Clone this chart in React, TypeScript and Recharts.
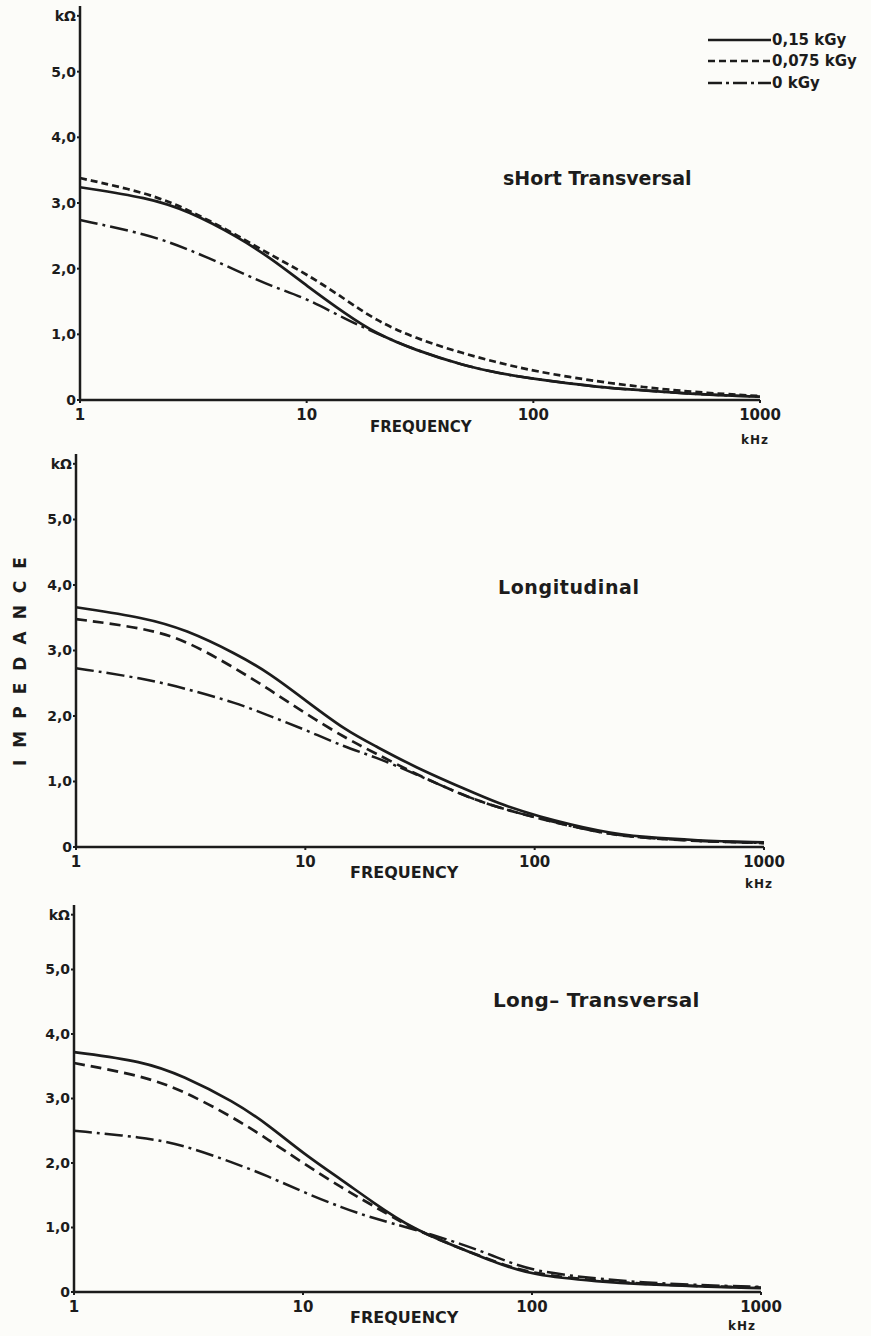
import React from 'react';
import { LineChart, Line, XAxis, YAxis, Legend } from 'recharts';

// frequency grid (kHz)
const FREQ = [1, 2, 3, 5, 7, 10, 15, 20, 30, 50, 70, 100, 200, 300, 500, 1000];

// sHort Transversal
const SHORT_015 = [3.24, 3.08, 2.88, 2.48, 2.15, 1.74, 1.3, 1.02, 0.76, 0.52, 0.41, 0.32, 0.19, 0.15, 0.09, 0.05];
const SHORT_0075 = [3.38, 3.15, 2.9, 2.5, 2.2, 1.92, 1.52, 1.22, 0.94, 0.7, 0.57, 0.44, 0.27, 0.2, 0.12, 0.06];
const SHORT_0 = [2.74, 2.52, 2.3, 1.96, 1.73, 1.55, 1.22, 1.03, 0.76, 0.52, 0.41, 0.32, 0.19, 0.15, 0.09, 0.05];

// Longitudinal
const LONG_015 = [3.66, 3.5, 3.32, 2.95, 2.65, 2.24, 1.78, 1.55, 1.22, 0.88, 0.66, 0.48, 0.22, 0.15, 0.1, 0.07];
const LONG_0075 = [3.48, 3.34, 3.16, 2.72, 2.4, 2.04, 1.66, 1.44, 1.12, 0.77, 0.6, 0.45, 0.2, 0.14, 0.09, 0.06];
const LONG_0 = [2.73, 2.57, 2.42, 2.2, 2.0, 1.79, 1.52, 1.38, 1.12, 0.77, 0.6, 0.45, 0.2, 0.14, 0.09, 0.06];

// Long-Transversal
const LT_015 = [3.72, 3.58, 3.35, 2.95, 2.6, 2.15, 1.72, 1.4, 0.98, 0.66, 0.45, 0.26, 0.16, 0.12, 0.09, 0.06];
const LT_0075 = [3.55, 3.35, 3.12, 2.7, 2.37, 2.0, 1.6, 1.35, 0.98, 0.66, 0.46, 0.28, 0.17, 0.13, 0.09, 0.07];
const LT_0 = [2.5, 2.4, 2.28, 2.0, 1.8, 1.55, 1.3, 1.15, 0.98, 0.74, 0.54, 0.32, 0.2, 0.15, 0.11, 0.08];

const X_TICKS = [1, 10, 100, 1000];
const Y_TICKS = [0, 1, 2, 3, 4, 5, 5.85];

const DASH_DOT = '18 5 3 5';
const LEGEND = [
  { label: '0,15 kGy', dash: undefined },
  { label: '0,075 kGy', dash: '7 4' },
  { label: '0 kGy', dash: '14 4 3 4' },
];

const INK = '#1c1c1c';
const FONT = '"DejaVu Sans", Verdana, sans-serif';

function rows(a: number[], b: number[], c: number[]) {
  return FREQ.map((f, i) => ({ f, a: a[i], b: b[i], c: c[i] }));
}

const yFmt = (v: number) => (v > 5.5 ? 'kΩ' : v === 0 ? '0' : `${v},0`);

interface PanelProps {
  data: ReturnType<typeof rows>;
  top: number;
  height: number;
  margin: { top: number; right: number; left: number; bottom: number };
  dash: string;
  legend?: boolean;
}

function Panel({ data, top, height, margin, dash, legend }: PanelProps) {
  const xTick = { fontSize: 15, fontWeight: 700, fill: INK, fontFamily: FONT };
  const yTick = { fontSize: 14, fontWeight: 700, fill: INK, fontFamily: FONT };
  return (
    <div style={{ position: 'absolute', left: 0, top }}>
      <LineChart width={871} height={height} data={data} margin={margin}>
        <XAxis
          dataKey="f"
          type="number"
          scale="log"
          domain={[1, 1000]}
          ticks={X_TICKS}
          height={30}
          tick={xTick}
          tickSize={3}
          tickMargin={6}
          axisLine={{ stroke: INK, strokeWidth: 2.5 }}
          tickLine={{ stroke: INK, strokeWidth: 2 }}
        />
        <YAxis
          type="number"
          domain={[0, 6]}
          ticks={Y_TICKS}
          width={40}
          tickFormatter={yFmt}
          tick={yTick}
          tickSize={3}
          tickMargin={1}
          axisLine={{ stroke: INK, strokeWidth: 2.5 }}
          tickLine={{ stroke: INK, strokeWidth: 2 }}
        />
        {legend && (
          <Legend
            layout="horizontal"
            align="center"
            verticalAlign="middle"
            wrapperStyle={{ position: 'absolute', top: 29, left: 708, width: 163 }}
            content={() => (
              <div>
                {LEGEND.map((l) => (
                  <div key={l.label} style={{ display: 'flex', alignItems: 'center', height: 21.5 }}>
                    <svg width={63} height={6}>
                      <line x1={0} y1={3} x2={63} y2={3} stroke={INK} strokeWidth={2.5} strokeDasharray={l.dash} />
                    </svg>
                    <span style={{ fontFamily: FONT, fontWeight: 700, fontSize: 15, color: INK, marginLeft: 1 }}>{l.label}</span>
                  </div>
                ))}
              </div>
            )}
          />
        )}
        <Line dataKey="a" type="basis" stroke={INK} strokeWidth={2.7} dot={false} isAnimationActive={false} />
        <Line dataKey="b" type="basis" stroke={INK} strokeWidth={2.7} strokeDasharray={dash} dot={false} isAnimationActive={false} />
        <Line dataKey="c" type="basis" stroke={INK} strokeWidth={2.5} strokeDasharray={DASH_DOT} dot={false} isAnimationActive={false} />
      </LineChart>
    </div>
  );
}

const txt = (s: string, left: number, top: number, size = 15, extra: React.CSSProperties = {}) => (
  <div
    style={{
      position: 'absolute',
      left,
      top,
      fontFamily: FONT,
      fontWeight: 700,
      fontSize: size,
      lineHeight: 1,
      color: INK,
      whiteSpace: 'nowrap',
      ...extra,
    }}
  >
    {s}
  </div>
);

export default function App() {
  return (
    <div style={{ position: 'absolute', left: 0, top: 0, width: 871, height: 1336, background: '#fcfcf9', overflow: 'hidden' }}>
      <Panel data={rows(SHORT_015, SHORT_0075, SHORT_0)} top={0} height={440} margin={{ top: 6, right: 111, left: 40, bottom: 10 }} dash="7 4" legend />
      <Panel data={rows(LONG_015, LONG_0075, LONG_0)} top={440} height={450} margin={{ top: 14, right: 107, left: 36, bottom: 13 }} dash="11 6" />
      <Panel data={rows(LT_015, LT_0075, LT_0)} top={890} height={446} margin={{ top: 15, right: 110, left: 34, bottom: 14 }} dash="11 6" />

      {txt('sHort  Transversal', 503, 169, 19)}
      {txt('Longitudinal', 498, 578, 19, { letterSpacing: 0.6 })}
      {txt('Long– Transversal', 493, 990, 20, { letterSpacing: 0.3 })}

      {txt('FREQUENCY', 370, 420, 15)}
      {txt('kHz', 741, 434, 12, { letterSpacing: 1 })}
      {txt('FREQUENCY', 350, 865, 16)}
      {txt('kHz', 745, 878, 12, { letterSpacing: 1 })}
      {txt('FREQUENCY', 350, 1310, 16)}
      {txt('kHz', 728, 1320, 12, { letterSpacing: 1 })}

      {txt('IMPEDANCE', -100, 647, 17, { transform: 'rotate(-90deg)', letterSpacing: 12, width: 240, textAlign: 'center' })}
    </div>
  );
}
